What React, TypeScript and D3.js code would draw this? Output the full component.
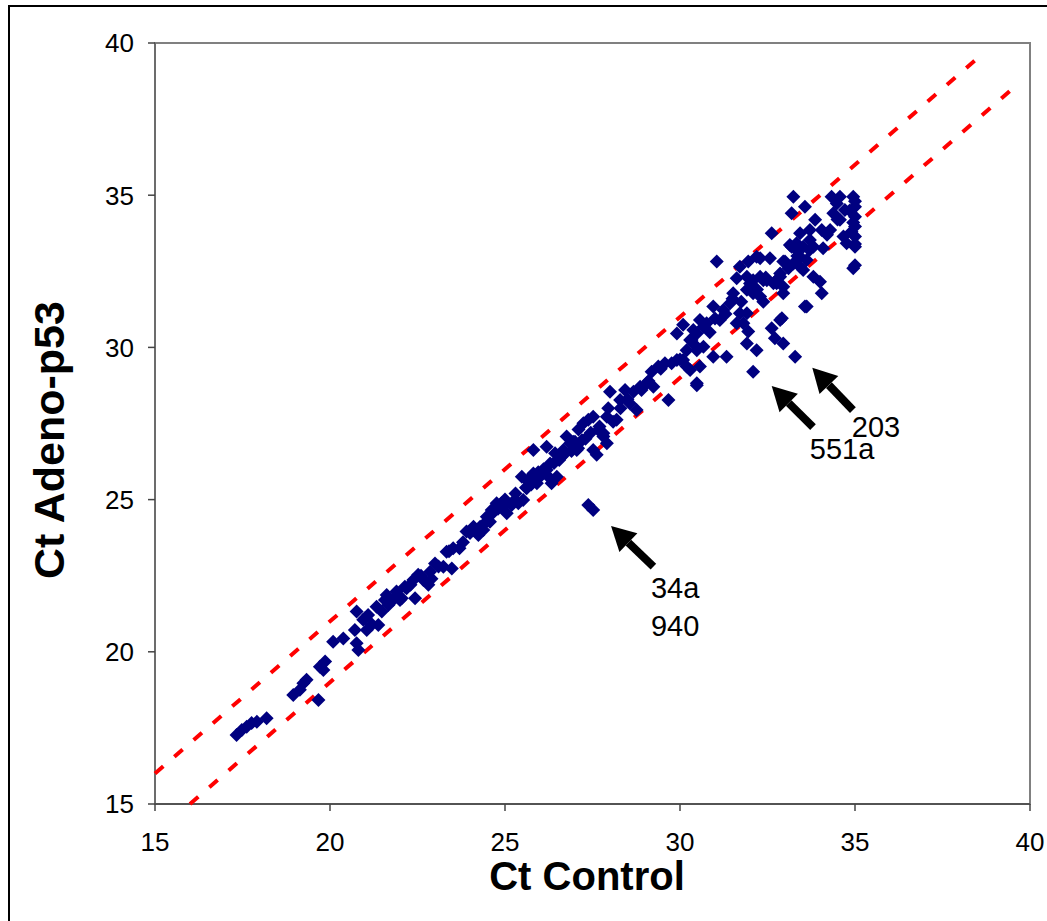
import React from "react";
import * as d3 from "d3";

const ctControl = [
  17.33, 17.48, 17.62, 17.76, 17.91, 18.19, 18.95, 19.14, 19.24, 19.33, 19.67, 19.71, 19.86, 19.81,
  20.09, 20.38, 20.76, 20.81, 20.71, 21.05, 21.38, 20.76, 20.95, 21.09, 21.33, 21.48, 21.62, 21.9,
  22.14, 22.43, 22.0, 21.67, 21.57,
  22.05, 22.19, 22.38, 22.52, 22.67, 22.81, 22.86, 23.24, 23.48, 23.33, 23.52,
  23.9, 24.09, 24.24, 24.38, 24.48, 24.67, 24.76, 24.95, 25.05, 24.57,
  24.1, 24.29, 24.62, 24.9, 25.19, 25.38, 25.52,
  25.48, 25.67, 25.62, 25.81, 26.0, 25.91, 26.19, 26.33, 26.29, 26.48, 26.43, 26.67, 26.86, 26.76,
  26.95, 27.09, 27.24, 27.38, 27.52, 27.67, 27.81, 27.52, 27.62, 27.91, 28.09, 25.81, 26.19,
  27.38, 27.52,
  27.81, 27.91, 27.05,
  28.0, 27.95, 28.19, 28.29, 28.43, 28.57, 28.76, 28.67, 28.86, 29.05, 29.24, 29.19, 29.38, 29.57,
  29.76, 29.91, 30.09, 30.19, 30.29, 30.33, 30.48, 30.67, 30.76, 30.67, 30.57, 30.95, 30.48, 29.67,
  30.09, 29.91,
  31.05, 31.71, 31.95, 32.19, 32.57, 32.95, 33.14, 33.33, 33.43,
  31.62, 31.91, 32.09, 32.29, 32.48, 32.67, 32.86, 32.95, 31.91, 32.09, 32.29, 32.38, 31.52, 31.43,
  31.24, 30.95, 31.14, 31.71, 31.91, 31.62, 31.81, 30.57, 30.38, 30.29, 30.19, 30.48, 31.33, 31.91,
  32.19, 31.95, 32.09, 30.48, 32.86, 32.62, 32.71, 32.95, 33.29, 33.57,
  33.24, 33.57, 33.19, 33.86, 32.62, 34.33, 34.48, 34.57, 34.95, 35.0, 35.0, 35.0, 35.0, 35.0,
  34.95, 34.71, 34.38, 34.57, 34.67, 34.76, 34.29, 34.05, 33.71, 33.43, 33.33, 33.19, 33.52, 33.71,
  33.81, 34.09, 33.43, 33.62, 33.24, 33.52, 33.81, 34.0, 34.05, 32.29, 33.0, 32.86, 32.95, 33.62,
  32.91, 32.38, 32.76, 35.0, 34.95, 35.0,
  25.0, 25.3, 25.7, 26.1, 26.6, 27.0, 27.3, 27.1, 26.9, 25.9, 24.8, 23.7, 23.0, 22.6, 21.8, 22.3,
  23.1, 23.4, 23.8, 24.0, 24.4, 24.6, 25.2, 25.6, 25.75, 25.95, 26.2, 26.4, 26.55, 26.7, 27.2, 27.45,
  27.7, 28.3, 28.5, 28.9, 29.1, 29.45, 30.0, 30.4, 30.85, 31.0, 31.3, 31.5, 31.75, 32.0, 32.2, 32.45,
  32.75, 33.1, 33.35, 33.7, 34.2, 34.5, 34.85, 35.0, 34.9, 21.2, 21.0, 22.9,
];

const ctAdeno = [
  17.27, 17.43, 17.54, 17.66, 17.7, 17.82, 18.58, 18.75, 18.97, 19.08, 18.42, 19.51, 19.68, 19.4,
  20.33, 20.44, 20.28, 20.06, 20.72, 20.72, 20.88, 21.32, 21.05, 21.21, 21.48, 21.32, 21.87, 21.98,
  22.14, 21.76, 21.7, 21.54, 21.7,
  21.76, 22.09, 22.36, 22.53, 22.36, 22.2, 22.63, 22.79, 22.74, 23.29, 23.4,
  23.95, 24.0, 23.84, 24.0, 24.44, 24.66, 24.88, 24.77, 24.55, 24.27,
  24.11, 24.11, 24.66, 24.88, 24.82, 24.88, 24.99,
  25.75, 25.59, 25.37, 25.86, 25.75, 25.54, 25.97, 25.54, 26.19, 25.75, 26.52, 26.63, 26.85, 27.07,
  26.9, 26.69, 27.51, 27.62, 27.72, 27.29, 27.07, 26.63, 26.47, 27.72, 27.56, 26.63, 26.74,
  24.82, 24.66,
  27.18, 26.85, 26.63,
  28.54, 28.0, 27.62, 28.27, 28.6, 28.16, 27.94, 28.54, 28.71, 28.82, 28.71, 29.2, 29.37, 29.48,
  29.48, 29.59, 29.59, 29.37, 29.26, 30.24, 30.46, 30.68, 30.79, 30.02, 29.37, 29.69, 28.82, 28.27,
  30.74, 30.46,
  32.82, 32.65, 32.82, 32.98, 32.93, 32.82, 33.36, 33.2, 32.65,
  32.27, 32.32, 32.21, 32.32, 32.21, 32.11, 32.43, 31.99, 31.89, 31.78, 31.67, 31.5, 31.78, 31.45,
  31.23, 31.34, 30.9, 31.12, 31.12, 30.79, 30.79, 30.9, 30.57, 30.24, 29.91, 29.91, 29.69, 30.13,
  29.91, 30.52, 29.2, 28.76, 30.9, 30.63, 30.3, 30.13, 29.69, 31.34,
  34.95, 34.62, 34.41, 34.19, 33.75, 34.95, 34.73, 34.95, 34.95, 34.62, 34.29, 33.97, 33.64, 33.31,
  32.6, 34.51, 34.41, 34.19, 33.64, 33.42, 33.86, 33.86, 33.86, 33.75, 33.42, 33.31, 33.31, 33.53,
  33.31, 33.26, 32.98, 32.87, 32.76, 32.54, 32.32, 32.16, 31.78, 32.93, 32.82, 32.32, 31.78, 31.34,
  30.96, 32.21, 32.11, 34.8, 34.1, 32.7,
  25.0, 25.2, 25.7, 26.0, 26.4, 26.9, 27.0, 27.3, 26.6, 25.8, 24.7, 23.4, 22.9, 22.5, 21.7, 22.2,
  22.8, 23.3, 23.6, 23.9, 24.2, 24.5, 24.9, 25.4, 25.5, 25.9, 25.8, 26.2, 26.3, 26.5, 26.95, 27.2,
  27.4, 28.0, 28.3, 28.6, 28.9, 29.3, 29.6, 30.1, 30.5, 30.95, 31.1, 31.6, 31.5, 32.1, 31.9, 32.3,
  32.2, 32.6, 33.0, 33.2, 33.7, 34.2, 34.5, 33.4, 33.8, 20.9, 21.1, 22.4,
];

const xTicks = [15, 20, 25, 30, 35, 40];
const yTicks = [15, 20, 25, 30, 35, 40];

// fold-change guide lines (y = x + 1, y = x - 1)
const upperLineX = [15, 38.5];
const upperOffset = 1;
const lowerLineX = [16, 39.5];
const lowerOffset = -1;

// annotation arrows: [tipX, tipY, tailX, tailY]
const arrowTipX = [33.78, 32.62, 28.03];
const arrowTipY = [29.33, 28.73, 24.13];
const arrowTailX = [34.94, 33.8, 29.24];
const arrowTailY = [27.94, 27.38, 22.8];

const labelText = ["203", "551a", "34a", "940"];
const labelX = [34.91, 33.71, 29.17, 29.17];
const labelY = [27.05, 26.33, 21.77, 20.52];

export default function App() {
  const W = 1047;
  const H = 921;
  const left = 155, right = 1030, top = 43, bottom = 804;
  const x = d3.scaleLinear().domain([15, 40]).range([left, right]);
  const y = d3.scaleLinear().domain([15, 40]).range([bottom, top]);
  const line = d3.line<[number, number]>().x((d) => x(d[0])).y((d) => y(d[1]));
  const font = "Arial, 'Liberation Sans', Helvetica, sans-serif";
  const diamond = "M0,-7L7,0L0,7L-7,0Z";

  const arrows = arrowTipX.map((tx, i) => {
    const x1 = x(tx), y1 = y(arrowTipY[i]);
    const x2 = x(arrowTailX[i]), y2 = y(arrowTailY[i]);
    const ang = Math.atan2(y2 - y1, x2 - x1);
    const headLen = 24, headHalf = 13;
    const bx = x1 + Math.cos(ang) * headLen;
    const by = y1 + Math.sin(ang) * headLen;
    const px = -Math.sin(ang), py = Math.cos(ang);
    const head = `M${x1},${y1}L${bx + px * headHalf},${by + py * headHalf}L${bx - px * headHalf},${by - py * headHalf}Z`;
    return { bx, by, x2, y2, head };
  });

  return (
    <svg width={W} height={H} style={{ position: "absolute", left: 0, top: 0, background: "#fff" }}>
      <rect x={9} y={6} width={1100} height={1000} fill="#fff" stroke="#000" strokeWidth={2} />
      <rect x={left} y={top} width={right - left} height={bottom - top} fill="#fff" stroke="#808080" strokeWidth={2} />
      {/* axes */}
      <line x1={left} x2={left} y1={top} y2={bottom} stroke="#666" strokeWidth={1.5} />
      <line x1={left} x2={right} y1={bottom} y2={bottom} stroke="#444" strokeWidth={1.5} />
      {yTicks.map((t) => (
        <g key={"y" + t}>
          <line x1={left - 7} x2={left} y1={y(t)} y2={y(t)} stroke="#444" strokeWidth={1.5} />
          <text x={134} y={y(t)} dy="0.36em" textAnchor="end" fontFamily={font} fontSize={26} fill="#000">
            {t}
          </text>
        </g>
      ))}
      {xTicks.map((t) => (
        <g key={"x" + t}>
          <line x1={x(t)} x2={x(t)} y1={bottom} y2={bottom + 7} stroke="#444" strokeWidth={1.5} />
          <text x={x(t)} y={851} textAnchor="middle" fontFamily={font} fontSize={26} fill="#000">
            {t}
          </text>
        </g>
      ))}
      {/* guide lines */}
      <path
        d={line(upperLineX.map((v) => [v, v + upperOffset]) as [number, number][]) || ""}
        stroke="#ff0000" strokeWidth={4} strokeDasharray="11 14.6" fill="none"
      />
      <path
        d={line(lowerLineX.map((v) => [v, v + lowerOffset]) as [number, number][]) || ""}
        stroke="#ff0000" strokeWidth={4} strokeDasharray="11 14.6" fill="none"
      />
      {/* points */}
      {ctControl.map((cx, i) => (
        <path key={i} d={diamond} transform={`translate(${x(cx)},${y(ctAdeno[i])})`} fill="#000080" />
      ))}
      {/* arrows */}
      {arrows.map((a, i) => (
        <g key={"a" + i}>
          <line x1={a.bx} y1={a.by} x2={a.x2} y2={a.y2} stroke="#000" strokeWidth={8} />
          <path d={a.head} fill="#000" />
        </g>
      ))}
      {labelText.map((t, i) => (
        <text key={"l" + i} x={x(labelX[i])} y={y(labelY[i])} fontFamily={font} fontSize={29} fill="#000">
          {t}
        </text>
      ))}
      {/* titles */}
      <text x={587} y={890} textAnchor="middle" fontFamily={font} fontSize={40} fontWeight="bold" fill="#000">
        Ct Control
      </text>
      <text
        transform={`translate(64,440) rotate(-90)`}
        textAnchor="middle" fontFamily={font} fontSize={43} fontWeight="bold" fill="#000"
      >
        Ct Adeno-p53
      </text>
    </svg>
  );
}
